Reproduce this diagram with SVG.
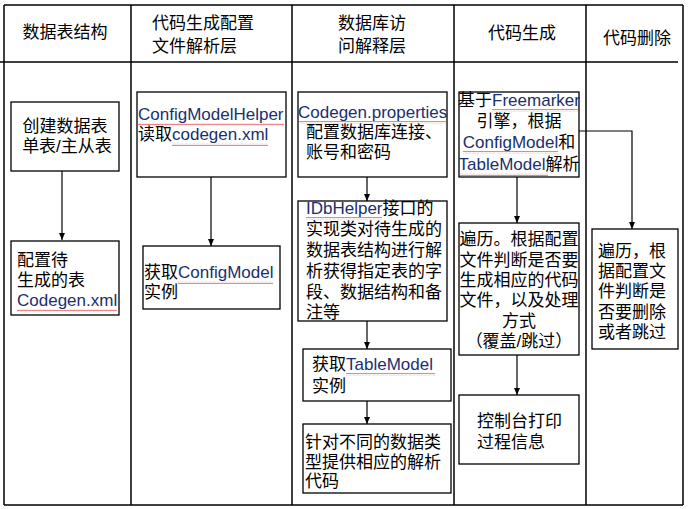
<svg xmlns="http://www.w3.org/2000/svg" width="688" height="509" viewBox="0 0 688 509">
<defs>
<style>
text{font-family:"Liberation Sans","Noto Sans CJK SC",sans-serif;font-size:17px;fill:#000}
.en{fill:#1a2f6e}
.c{text-anchor:middle}
.box{fill:#fff;stroke:#000;stroke-width:1.3}
.grid{stroke:#000;stroke-width:1.5;fill:none}
.con{stroke:#000;stroke-width:1.2;fill:none}
.sq{fill:url(#wave)}
</style>
<pattern id="wave" width="4" height="3" patternUnits="userSpaceOnUse">
<path d="M0,2.2 L1,0.8 L2,2.2 L3,0.8 L4,2.2" fill="none" stroke="#e03030" stroke-width="0.6"/>
</pattern>
<marker id="arr" markerWidth="7" markerHeight="6" refX="7" refY="3" orient="auto" markerUnits="userSpaceOnUse">
<path d="M0,0 L7,3 L0,6 Z" fill="#000"/>
</marker>
</defs>
<rect width="688" height="509" fill="#fff"/>

<g id="table">
<line class="grid" x1="4" y1="5" x2="683" y2="5"/>
<line class="grid" x1="0" y1="62" x2="678" y2="62"/>
<line class="grid" x1="4" y1="505" x2="683" y2="505"/>
<line class="grid" x1="4" y1="5" x2="4" y2="505"/>
<line class="grid" x1="131" y1="5" x2="131" y2="505"/>
<line class="grid" x1="292" y1="5" x2="292" y2="505"/>
<line class="grid" x1="454" y1="5" x2="454" y2="505"/>
<line class="grid" x1="586" y1="5" x2="586" y2="505"/>
<line class="grid" x1="683" y1="5" x2="683" y2="505"/>
<text x="65" y="38" class="c">数据表结构</text>
<text x="152" y="29">代码生成配置</text>
<text x="152" y="52">文件解析层</text>
<text x="338" y="29">数据库访</text>
<text x="338" y="52">问解释层</text>
<text x="488" y="39">代码生成</text>
<text x="603" y="44">代码删除</text>
</g>

<g id="connectors">
<line class="con" x1="62" y1="171" x2="62" y2="240" marker-end="url(#arr)"/>
<line class="con" x1="211" y1="177" x2="211" y2="246" marker-end="url(#arr)"/>
<line class="con" x1="367" y1="177" x2="367" y2="201" marker-end="url(#arr)"/>
<line class="con" x1="367" y1="321" x2="367" y2="349" marker-end="url(#arr)"/>
<line class="con" x1="367" y1="401" x2="367" y2="424" marker-end="url(#arr)"/>
<line class="con" x1="517" y1="177" x2="517" y2="223" marker-end="url(#arr)"/>
<line class="con" x1="517" y1="355" x2="517" y2="395" marker-end="url(#arr)"/>
<polyline class="con" points="579,131 632,131 632,229" marker-end="url(#arr)"/>
</g>

<g id="n1">
<rect class="box" x="11" y="102" width="108" height="69"/>
<text x="65" y="132" class="c">创建数据表</text>
<text x="67" y="152" class="c">单表/主从表</text>
</g>
<g id="n2">
<rect class="box" x="11" y="241" width="108" height="74"/>
<text x="17" y="266">配置待</text>
<text x="17" y="286">生成的表</text>
<text x="17" y="306" class="en">Codegen.xml</text>
<rect class="sq" x="17" y="309" width="100" height="3"/>
</g>
<g id="n3">
<rect class="box" x="137" y="92" width="149" height="85"/>
<text x="138" y="120" class="en">ConfigModelHelper</text>
<rect class="sq" x="138" y="123" width="146" height="3"/>
<text x="138" y="140">读取<tspan class="en">codegen.xml</tspan></text>
<rect class="sq" x="172" y="143" width="96" height="3"/>
</g>
<g id="n4">
<rect class="box" x="143" y="246" width="137" height="63"/>
<text x="144" y="278">获取<tspan class="en">ConfigModel</tspan></text>
<rect class="sq" x="178" y="281" width="95" height="3"/>
<text x="144" y="298">实例</text>
</g>
<g id="n5">
<rect class="box" x="298" y="92" width="149" height="85"/>
<text x="298" y="118" class="en">Codegen.properties</text>
<rect class="sq" x="298" y="121" width="149" height="3"/>
<text x="306" y="138">配置数据库连接、</text>
<text x="306" y="158">账号和密码</text>
</g>
<g id="n6">
<rect class="box" x="298" y="201" width="149" height="120"/>
<text x="306" y="214"><tspan class="en">IDbHelper</tspan>接口的</text>
<rect class="sq" x="306" y="217" width="76" height="3"/>
<text x="306" y="235">实现类对待生成的</text>
<text x="306" y="256">数据表结构进行解</text>
<text x="306" y="277">析获得指定表的字</text>
<text x="306" y="298">段、数据结构和备</text>
<text x="306" y="318">注等</text>
</g>
<g id="n7">
<rect class="box" x="303" y="349" width="148" height="52"/>
<text x="312" y="370">获取<tspan class="en">TableModel</tspan></text>
<rect class="sq" x="346" y="373" width="89" height="3"/>
<text x="312" y="392">实例</text>
</g>
<g id="n8">
<rect class="box" x="303" y="424" width="148" height="69"/>
<text x="305" y="448">针对不同的数据类</text>
<text x="305" y="468">型提供相应的解析</text>
<text x="305" y="487">代码</text>
</g>
<g id="n9">
<rect class="box" x="459" y="92" width="120" height="85"/>
<text x="519" y="106" class="c">基于<tspan class="en">Freemarker</tspan></text>
<rect class="sq" x="492" y="109" width="87" height="3"/>
<text x="519" y="127" class="c">引擎，根据</text>
<text x="519" y="148" class="c"><tspan class="en">ConfigModel</tspan>和</text>
<rect class="sq" x="463" y="151" width="95" height="3"/>
<text x="519" y="170" class="c"><tspan class="en">TableModel</tspan>解析</text>
<rect class="sq" x="459" y="173" width="89" height="3"/>
</g>
<g id="n10">
<rect class="box" x="459" y="223" width="120" height="132"/>
<text x="519" y="245" class="c">遍历。根据配置</text>
<text x="519" y="266" class="c">文件判断是否要</text>
<text x="519" y="286" class="c">生成相应的代码</text>
<text x="519" y="306" class="c">文件，以及处理</text>
<text x="519" y="327" class="c">方式</text>
<text x="519" y="347" class="c">（覆盖/跳过）</text>
</g>
<g id="n11">
<rect class="box" x="459" y="395" width="120" height="69"/>
<text x="477" y="427">控制台打印</text>
<text x="477" y="448">过程信息</text>
</g>
<g id="n12">
<rect class="box" x="592" y="229" width="86" height="120"/>
<text x="598" y="257">遍历，根</text>
<text x="598" y="277">据配置文</text>
<text x="598" y="297">件判断是</text>
<text x="598" y="318">否要删除</text>
<text x="598" y="338">或者跳过</text>
</g>
</svg>
